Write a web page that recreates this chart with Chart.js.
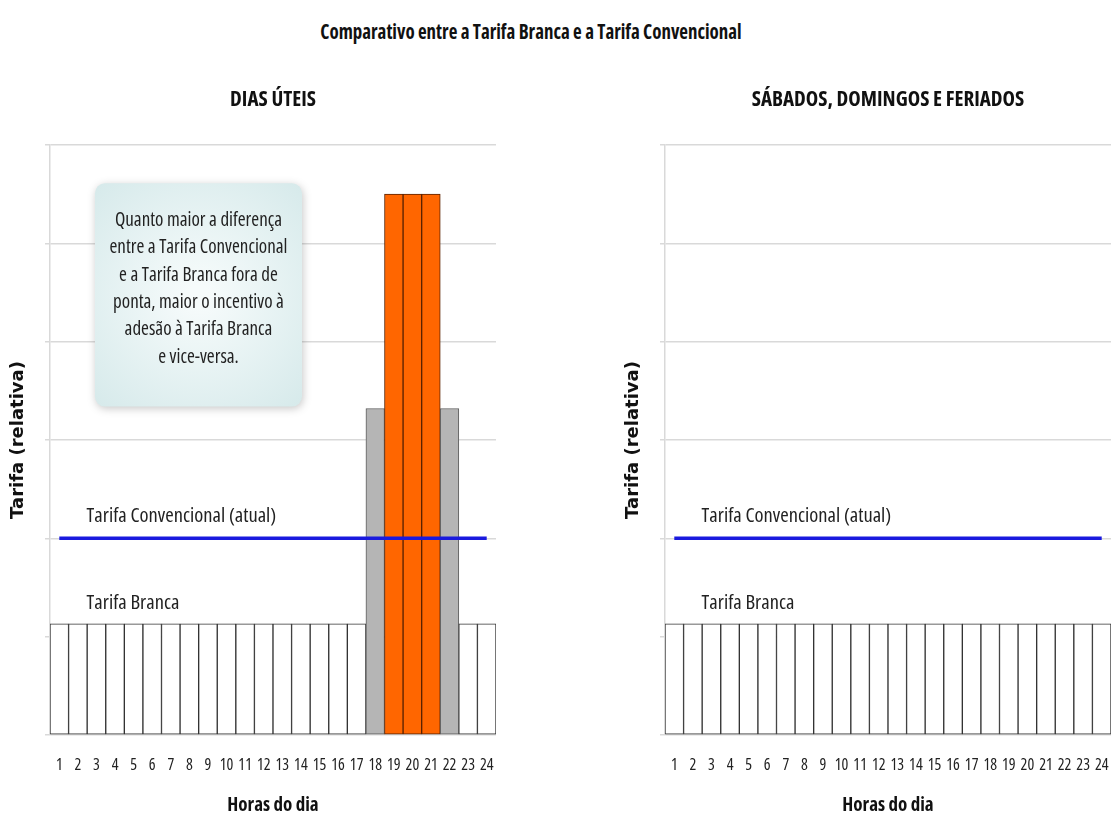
<!DOCTYPE html>
<html lang="pt-BR">
<head>
<meta charset="utf-8">
<title>Tarifa Branca x Tarifa Convencional</title>
<script src="https://cdn.jsdelivr.net/npm/chart.js@4.4.1/dist/chart.umd.min.js"></script>
<style>
  body { margin: 0; background: #fff; width: 1112px; height: 816px; position: relative; overflow: hidden; }
  #titulo {
    position: absolute; left: 0; top: 17px; width: 1062px; text-align: center;
    font: bold 21px 'Open Sans', sans-serif; font-stretch: condensed; color: #111;
    transform: scaleX(0.9); transform-origin: 531px 0;
  }
  .painel { position: absolute; top: 60px; }
</style>
</head>
<body>
<div id="titulo">Comparativo entre a Tarifa Branca e a Tarifa Convencional</div>
<div class="painel" style="left:0"><canvas id="uteis" width="556" height="756"></canvas></div>
<div class="painel" style="left:615px"><canvas id="fimdesemana" width="497" height="756"></canvas></div>
<script>
const horas = ['1','2','3','4','5','6','7','8','9','10','11','12','13','14','15','16','17','18','19','20','21','22','23','24'];

// posto tarifário de cada hora: F = fora de ponta, I = intermediário, P = ponta
const postosUteis = ['F','F','F','F','F','F','F','F','F','F','F','F','F','F','F','F','F','I','P','P','P','I','F','F'];
const postosFimDeSemana = ['F','F','F','F','F','F','F','F','F','F','F','F','F','F','F','F','F','F','F','F','F','F','F','F'];

const tarifaBrancaUteis = [1.13,1.13,1.13,1.13,1.13,1.13,1.13,1.13,1.13,1.13,1.13,1.13,1.13,1.13,1.13,1.13,1.13,3.32,5.5,5.5,5.5,3.32,1.13,1.13];
const tarifaBrancaFimDeSemana = [1.13,1.13,1.13,1.13,1.13,1.13,1.13,1.13,1.13,1.13,1.13,1.13,1.13,1.13,1.13,1.13,1.13,1.13,1.13,1.13,1.13,1.13,1.13,1.13];
const tarifaConvencional = [2,2,2,2,2,2,2,2,2,2,2,2,2,2,2,2,2,2,2,2,2,2,2,2];

const notaTexto = ['Quanto maior a diferença', 'entre a Tarifa Convencional', 'e a Tarifa Branca fora de',
  'ponta, maior o incentivo à', 'adesão à Tarifa Branca', 'e vice-versa.'];

// Open Sans é variável: "condensed" escolhe a largura estreita
const FONTE = "'Open Sans', sans-serif";
const corFundo = { F: '#ffffff', I: '#b5b5b5', P: '#ff6600' };
const corBorda = { F: '#333333', I: '#5e5e5e', P: '#5a2200' };

// subtítulo do painel, centralizado sobre a área do gráfico
const subtituloPlugin = {
  id: 'subtitulo',
  afterDraw(chart, args, opts) {
    const ctx = chart.ctx;
    const area = chart.chartArea;
    ctx.save();
    ctx.font = 'condensed bold 21px ' + FONTE;
    ctx.fillStyle = '#111';
    ctx.textAlign = 'center';
    ctx.textBaseline = 'middle';
    ctx.fillText(opts.texto, (area.left + area.right) / 2, 40);
    ctx.restore();
  }
};

// rótulos das duas tarifas, posicionados pelas escalas
const rotulosPlugin = {
  id: 'rotulos',
  afterDatasetsDraw(chart) {
    const { ctx, scales: { x, y } } = chart;
    ctx.save();
    ctx.font = 'condensed 20.5px ' + FONTE;
    ctx.fillStyle = '#222';
    ctx.textAlign = 'left';
    ctx.textBaseline = 'middle';
    ctx.fillText('Tarifa Convencional (atual)', x.getPixelForValue(1.47), y.getPixelForValue(2.23));
    ctx.fillText('Tarifa Branca', x.getPixelForValue(1.47), y.getPixelForValue(1.34));
    ctx.restore();
  }
};

// caixa de observação no painel de dias úteis
const notaPlugin = {
  id: 'nota',
  afterDatasetsDraw(chart, args, opts) {
    if (!opts.mostrar) return;
    const { ctx, scales: { x, y } } = chart;
    const left = x.getPixelForValue(1.92), right = x.getPixelForValue(13.06);
    const top = y.getPixelForValue(5.61), bottom = y.getPixelForValue(3.34);
    const w = right - left, h = bottom - top, r = 10;
    ctx.save();
    const grad = ctx.createRadialGradient(left + w / 2, top + h / 2, 10, left + w / 2, top + h / 2, w * 0.8);
    grad.addColorStop(0, '#f6fbfb');
    grad.addColorStop(1, '#d3e8e9');
    ctx.shadowColor = 'rgba(0,0,0,0.22)';
    ctx.shadowBlur = 8;
    ctx.shadowOffsetX = 1;
    ctx.shadowOffsetY = 2;
    ctx.fillStyle = grad;
    ctx.beginPath();
    ctx.roundRect(left, top, w, h, r);
    ctx.fill();
    ctx.shadowColor = 'transparent';
    ctx.font = 'condensed 19px ' + FONTE;
    ctx.fillStyle = '#222';
    ctx.textAlign = 'center';
    ctx.textBaseline = 'middle';
    const passo = 27.4;
    const y0 = top + h / 2 - 6 - passo * (notaTexto.length - 1) / 2;
    notaTexto.forEach((linha, i) => ctx.fillText(linha, left + w / 2, y0 + i * passo));
    ctx.restore();
  }
};

function criarGrafico(canvasId, branca, postos, subtitulo, mostrarNota, padRight) {
  return new Chart(document.getElementById(canvasId), {
    type: 'bar',
    data: {
      labels: horas,
      datasets: [
        {
          type: 'line',
          label: 'Tarifa Convencional (atual)',
          data: tarifaConvencional,
          borderColor: '#1a1ade',
          borderWidth: 3.5,
          pointRadius: 0,
          fill: false,
          order: 0
        },
        {
          label: 'Tarifa Branca',
          data: branca,
          backgroundColor: postos.map(p => corFundo[p]),
          borderColor: postos.map(p => corBorda[p]),
          borderWidth: 1,
          borderSkipped: false,
          barPercentage: 1,
          categoryPercentage: 1,
          order: 1
        }
      ]
    },
    options: {
      responsive: false,
      animation: false,
      devicePixelRatio: 1,
      layout: { padding: { top: 85, right: padRight, bottom: 0, left: 0 } },
      plugins: {
        legend: { display: false },
        tooltip: { enabled: false },
        subtitulo: { texto: subtitulo },
        nota: { mostrar: mostrarNota }
      },
      scales: {
        x: {
          // marcas invisíveis só para afastar os rótulos do eixo
          grid: { display: true, drawOnChartArea: false, drawTicks: true, tickLength: 19, color: 'rgba(0,0,0,0)' },
          border: { display: false },
          ticks: {
            color: '#222',
            padding: 2,
            maxRotation: 0,
            autoSkip: false,
            font: { family: FONTE, size: 16, weight: 'condensed' }
          },
          title: {
            display: true,
            text: 'Horas do dia',
            color: '#111',
            padding: { top: 0, bottom: -1 },
            font: { family: FONTE, size: 19, weight: 'condensed bold' }
          },
          afterFit(scale) { scale.height = 81; }
        },
        y: {
          min: 0,
          max: 6,
          ticks: { stepSize: 1, display: false },
          grid: { color: '#d9d9d9', lineWidth: 1.5, drawTicks: true, tickLength: 5 },
          border: { display: true, color: '#d9d9d9', width: 1.5 },
          title: {
            display: true,
            text: 'Tarifa (relativa)',
            color: '#111',
            padding: { top: 8, bottom: 0 },
            font: { family: "'DejaVu Sans', sans-serif", size: 18, weight: 'bold' }
          },
          afterFit(scale) { scale.width = 50; }
        }
      }
    },
    plugins: [subtituloPlugin, rotulosPlugin, notaPlugin]
  });
}

criarGrafico('uteis', tarifaBrancaUteis, postosUteis, 'DIAS ÚTEIS', true, 60);
criarGrafico('fimdesemana', tarifaBrancaFimDeSemana, postosFimDeSemana, 'SÁBADOS, DOMINGOS E FERIADOS', false, 1);
</script>
</body>
</html>
